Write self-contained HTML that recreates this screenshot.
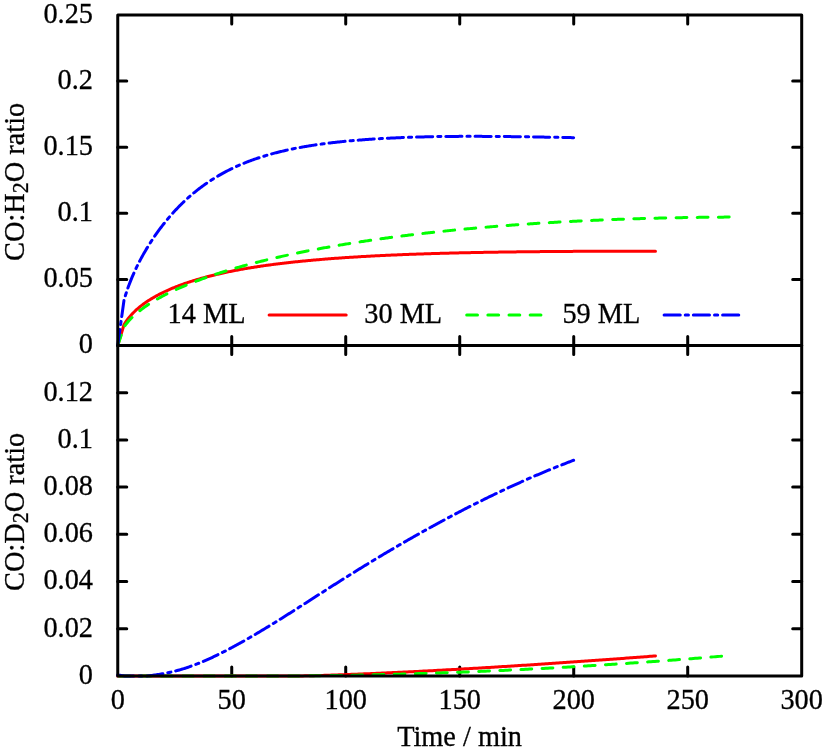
<!DOCTYPE html>
<html><head><meta charset="utf-8"><title>CO ratio</title>
<style>html,body{margin:0;padding:0;background:#fff;}svg{display:block;}.t{font-family:"Liberation Serif",serif;will-change:transform;}</style></head>
<body>
<svg width="831" height="751" viewBox="0 0 831 751">
<rect width="831" height="751" fill="#fff"/>
<path d="M231.74,15.0 v9.0 M231.74,336.5 v18.0 M231.74,675.9 v-9.0 M345.73,15.0 v9.0 M345.73,336.5 v18.0 M345.73,675.9 v-9.0 M459.73,15.0 v9.0 M459.73,336.5 v18.0 M459.73,675.9 v-9.0 M573.72,15.0 v9.0 M573.72,336.5 v18.0 M573.72,675.9 v-9.0 M687.71,15.0 v9.0 M687.71,336.5 v18.0 M687.71,675.9 v-9.0 M117.75,279.40 h9.0 M801.7,279.40 h-9.0 M117.75,213.30 h9.0 M801.7,213.30 h-9.0 M117.75,147.20 h9.0 M801.7,147.20 h-9.0 M117.75,81.10 h9.0 M801.7,81.10 h-9.0 M117.75,628.70 h9.0 M801.7,628.70 h-9.0 M117.75,581.50 h9.0 M801.7,581.50 h-9.0 M117.75,534.30 h9.0 M801.7,534.30 h-9.0 M117.75,487.10 h9.0 M801.7,487.10 h-9.0 M117.75,439.90 h9.0 M801.7,439.90 h-9.0 M117.75,392.70 h9.0 M801.7,392.70 h-9.0 " stroke="#000" stroke-width="3.0" stroke-linecap="round" fill="none"/>
<path d="M117.70,345.50 L123.99,324.71 L125.06,322.97 L126.12,321.36 L127.19,319.87 L128.25,318.47 L129.32,317.15 L130.38,315.90 L131.45,314.71 L132.51,313.57 L133.58,312.49 L134.64,311.45 L135.71,310.44 L136.77,309.48 L137.84,308.54 L138.90,307.64 L139.97,306.77 L141.03,305.92 L142.10,305.10 L143.16,304.30 L144.23,303.52 L145.29,302.77 L146.36,302.03 L147.42,301.31 L148.49,300.61 L149.55,299.93 L150.62,299.26 L151.68,298.61 L152.75,297.97 L153.81,297.35 L154.88,296.74 L155.94,296.14 L157.01,295.56 L158.07,294.98 L159.14,294.42 L160.21,293.87 L161.27,293.33 L162.34,292.80 L163.40,292.28 L164.47,291.77 L165.53,291.26 L166.60,290.77 L167.66,290.29 L168.73,289.81 L169.79,289.34 L170.86,288.88 L171.92,288.43 L172.99,287.99 L174.05,287.55 L175.12,287.12 L176.18,286.70 L177.25,286.28 L178.31,285.87 L179.38,285.47 L180.44,285.07 L181.51,284.68 L182.57,284.29 L183.64,283.91 L184.70,283.54 L185.77,283.17 L186.83,282.81 L187.90,282.45 L188.96,282.10 L190.03,281.75 L191.09,281.41 L192.16,281.07 L193.22,280.74 L194.29,280.41 L195.35,280.08 L196.42,279.76 L197.48,279.45 L198.55,279.14 L199.61,278.83 L200.68,278.53 L201.74,278.23 L202.81,277.93 L203.87,277.64 L204.94,277.35 L206.00,277.07 L207.07,276.79 L208.13,276.51 L209.20,276.24 L210.26,275.97 L211.33,275.70 L212.39,275.44 L213.46,275.18 L214.52,274.92 L215.59,274.67 L216.65,274.41 L217.72,274.17 L218.79,273.92 L219.85,273.68 L220.92,273.44 L221.98,273.20 L223.05,272.97 L224.11,272.74 L225.18,272.51 L226.24,272.29 L227.31,272.06 L228.37,271.84 L229.44,271.62 L230.50,271.41 L231.57,271.20 L232.63,270.99 L233.70,270.78 L234.76,270.57 L235.83,270.37 L236.89,270.17 L237.96,269.97 L239.02,269.77 L240.09,269.58 L241.15,269.38 L242.22,269.19 L243.28,269.01 L244.35,268.82 L245.41,268.64 L246.48,268.45 L247.54,268.27 L248.61,268.10 L249.67,267.92 L250.74,267.75 L251.80,267.57 L252.87,267.40 L253.93,267.23 L255.00,267.07 L256.06,266.90 L257.13,266.74 L258.19,266.58 L259.26,266.42 L260.32,266.26 L261.39,266.10 L262.45,265.95 L263.52,265.80 L264.58,265.64 L265.65,265.49 L266.71,265.34 L267.78,265.20 L268.84,265.05 L269.91,264.91 L270.97,264.77 L272.04,264.63 L273.10,264.49 L274.17,264.35 L275.24,264.21 L276.30,264.08 L277.37,263.94 L278.43,263.81 L279.50,263.68 L280.56,263.55 L281.63,263.42 L282.69,263.29 L283.76,263.17 L284.82,263.04 L285.89,262.92 L286.95,262.80 L288.02,262.67 L289.08,262.55 L290.15,262.44 L291.21,262.32 L292.28,262.20 L293.34,262.09 L294.41,261.97 L295.47,261.86 L296.54,261.75 L297.60,261.64 L298.67,261.53 L299.73,261.42 L300.80,261.31 L301.86,261.21 L302.93,261.10 L303.99,261.00 L305.06,260.89 L306.12,260.79 L307.19,260.69 L308.25,260.59 L309.32,260.49 L310.38,260.39 L311.45,260.29 L312.51,260.20 L313.58,260.10 L314.64,260.01 L315.71,259.91 L316.77,259.82 L317.84,259.73 L318.90,259.64 L319.97,259.55 L321.03,259.46 L322.10,259.37 L323.16,259.28 L324.23,259.19 L325.29,259.11 L326.36,259.02 L327.42,258.94 L328.49,258.85 L329.55,258.77 L330.62,258.69 L331.69,258.61 L332.75,258.53 L333.82,258.45 L334.88,258.37 L335.95,258.29 L337.01,258.21 L338.08,258.14 L339.14,258.06 L340.21,257.99 L341.27,257.91 L342.34,257.84 L343.40,257.77 L344.47,257.69 L345.53,257.62 L346.60,257.55 L347.66,257.48 L348.73,257.41 L349.79,257.34 L350.86,257.27 L351.92,257.21 L352.99,257.14 L354.05,257.07 L355.12,257.01 L356.18,256.94 L357.25,256.88 L358.31,256.81 L359.38,256.75 L360.44,256.69 L361.51,256.62 L362.57,256.56 L363.64,256.50 L364.70,256.44 L365.77,256.38 L366.83,256.32 L367.90,256.26 L368.96,256.21 L370.03,256.15 L371.09,256.09 L372.16,256.03 L373.22,255.98 L374.29,255.92 L375.35,255.87 L376.42,255.81 L377.48,255.76 L378.55,255.71 L379.61,255.65 L380.68,255.60 L381.74,255.55 L382.81,255.50 L383.87,255.45 L384.94,255.40 L386.00,255.35 L387.07,255.30 L388.13,255.25 L389.20,255.20 L390.27,255.15 L391.33,255.11 L392.40,255.06 L393.46,255.01 L394.53,254.97 L395.59,254.92 L396.66,254.88 L397.72,254.83 L398.79,254.79 L399.85,254.74 L400.92,254.70 L401.98,254.66 L403.05,254.61 L404.11,254.57 L405.18,254.53 L406.24,254.49 L407.31,254.45 L408.37,254.41 L409.44,254.37 L410.50,254.33 L411.57,254.29 L412.63,254.25 L413.70,254.21 L414.76,254.17 L415.83,254.13 L416.89,254.09 L417.96,254.06 L419.02,254.02 L420.09,253.98 L421.15,253.95 L422.22,253.91 L423.28,253.88 L424.35,253.84 L425.41,253.81 L426.48,253.77 L427.54,253.74 L428.61,253.71 L429.67,253.67 L430.74,253.64 L431.80,253.61 L432.87,253.57 L433.93,253.54 L435.00,253.51 L436.06,253.48 L437.13,253.45 L438.19,253.42 L439.26,253.39 L440.32,253.36 L441.39,253.33 L442.45,253.30 L443.52,253.27 L444.58,253.24 L445.65,253.21 L446.72,253.18 L447.78,253.16 L448.85,253.13 L449.91,253.10 L450.98,253.07 L452.04,253.05 L453.11,253.02 L454.17,253.00 L455.24,252.97 L456.30,252.94 L457.37,252.92 L458.43,252.89 L459.50,252.87 L460.56,252.84 L461.63,252.82 L462.69,252.80 L463.76,252.77 L464.82,252.75 L465.89,252.72 L466.95,252.70 L468.02,252.68 L469.08,252.66 L470.15,252.63 L471.21,252.61 L472.28,252.59 L473.34,252.57 L474.41,252.55 L475.47,252.53 L476.54,252.51 L477.60,252.48 L478.67,252.46 L479.73,252.44 L480.80,252.42 L481.86,252.40 L482.93,252.38 L483.99,252.37 L485.06,252.35 L486.12,252.33 L487.19,252.31 L488.25,252.29 L489.32,252.27 L490.38,252.25 L491.45,252.24 L492.51,252.22 L493.58,252.20 L494.64,252.18 L495.71,252.17 L496.77,252.15 L497.84,252.13 L498.90,252.12 L499.97,252.10 L501.03,252.09 L502.10,252.07 L503.17,252.05 L504.23,252.04 L505.30,252.02 L506.36,252.01 L507.43,251.99 L508.49,251.98 L509.56,251.96 L510.62,251.95 L511.69,251.94 L512.75,251.92 L513.82,251.91 L514.88,251.89 L515.95,251.88 L517.01,251.87 L518.08,251.86 L519.14,251.84 L520.21,251.83 L521.27,251.82 L522.34,251.80 L523.40,251.79 L524.47,251.78 L525.53,251.77 L526.60,251.76 L527.66,251.74 L528.73,251.73 L529.79,251.72 L530.86,251.71 L531.92,251.70 L532.99,251.69 L534.05,251.68 L535.12,251.67 L536.18,251.66 L537.25,251.65 L538.31,251.64 L539.38,251.63 L540.44,251.62 L541.51,251.61 L542.57,251.60 L543.64,251.59 L544.70,251.58 L545.77,251.57 L546.83,251.56 L547.90,251.55 L548.96,251.54 L550.03,251.53 L551.09,251.52 L552.16,251.52 L553.22,251.51 L554.29,251.50 L555.35,251.49 L556.42,251.48 L557.48,251.48 L558.55,251.47 L559.61,251.46 L560.68,251.45 L561.75,251.45 L562.81,251.44 L563.88,251.43 L564.94,251.42 L566.01,251.42 L567.07,251.41 L568.14,251.40 L569.20,251.40 L570.27,251.39 L571.33,251.38 L572.40,251.38 L573.46,251.37 L574.53,251.37 L575.59,251.36 L576.66,251.35 L577.72,251.35 L578.79,251.34 L579.85,251.34 L580.92,251.33 L581.98,251.33 L583.05,251.32 L584.11,251.32 L585.18,251.31 L586.24,251.31 L587.31,251.30 L588.37,251.30 L589.44,251.29 L590.50,251.29 L591.57,251.28 L592.63,251.28 L593.70,251.27 L594.76,251.27 L595.83,251.27 L596.89,251.26 L597.96,251.26 L599.02,251.25 L600.09,251.25 L601.15,251.25 L602.22,251.24 L603.28,251.24 L604.35,251.24 L605.41,251.23 L606.48,251.23 L607.54,251.23 L608.61,251.22 L609.67,251.22 L610.74,251.22 L611.80,251.21 L612.87,251.21 L613.93,251.21 L615.00,251.20 L616.06,251.20 L617.13,251.20 L618.20,251.20 L619.26,251.19 L620.33,251.19 L621.39,251.19 L622.46,251.19 L623.52,251.18 L624.59,251.18 L625.65,251.18 L626.72,251.18 L627.78,251.18 L628.85,251.17 L629.91,251.17 L630.98,251.17 L632.04,251.17 L633.11,251.17 L634.17,251.17 L635.24,251.16 L636.30,251.16 L637.37,251.16 L638.43,251.16 L639.50,251.16 L640.56,251.16 L641.63,251.16 L642.69,251.15 L643.76,251.15 L644.82,251.15 L645.89,251.15 L646.95,251.15 L648.02,251.15 L649.08,251.15 L650.15,251.15 L651.21,251.15 L652.28,251.15 L653.34,251.15 L654.41,251.14 L655.47,251.14" stroke="#f00" stroke-width="3.0" stroke-linecap="round" stroke-linejoin="round" fill="none"/>
<path d="M117.70,345.50 L123.99,327.06 L125.20,325.32 L126.42,323.71 L127.63,322.22 L128.84,320.82 L130.06,319.49 L131.27,318.23 L132.48,317.03 L133.70,315.88 L134.91,314.77 L136.12,313.70 L137.34,312.67 L138.55,311.67 L139.76,310.71 L140.98,309.77 L142.19,308.85 L143.40,307.96 L144.61,307.09 L145.83,306.25 L147.04,305.42 L148.25,304.61 L149.47,303.82 L150.68,303.05 L151.89,302.29 L153.11,301.54 L154.32,300.81 L155.53,300.09 L156.75,299.39 L157.96,298.70 L159.17,298.02 L160.39,297.35 L161.60,296.69 L162.81,296.04 L164.02,295.40 L165.24,294.77 L166.45,294.15 L167.66,293.54 L168.88,292.94 L170.09,292.34 L171.30,291.76 L172.52,291.18 L173.73,290.61 L174.94,290.04 L176.16,289.49 L177.37,288.94 L178.58,288.39 L179.80,287.86 L181.01,287.33 L182.22,286.80 L183.43,286.28 L184.65,285.77 L185.86,285.26 L187.07,284.76 L188.29,284.27 L189.50,283.77 L190.71,283.29 L191.93,282.81 L193.14,282.33 L194.35,281.86 L195.57,281.40 L196.78,280.93 L197.99,280.48 L199.20,280.02 L200.42,279.57 L201.63,279.13 L202.84,278.69 L204.06,278.25 L205.27,277.82 L206.48,277.39 L207.70,276.97 L208.91,276.55 L210.12,276.13 L211.34,275.72 L212.55,275.31 L213.76,274.90 L214.98,274.50 L216.19,274.10 L217.40,273.70 L218.61,273.31 L219.83,272.92 L221.04,272.54 L222.25,272.15 L223.47,271.77 L224.68,271.39 L225.89,271.02 L227.11,270.65 L228.32,270.28 L229.53,269.91 L230.75,269.55 L231.96,269.19 L233.17,268.83 L234.39,268.48 L235.60,268.13 L236.81,267.78 L238.02,267.43 L239.24,267.09 L240.45,266.74 L241.66,266.40 L242.88,266.07 L244.09,265.73 L245.30,265.40 L246.52,265.07 L247.73,264.74 L248.94,264.42 L250.16,264.10 L251.37,263.78 L252.58,263.46 L253.79,263.14 L255.01,262.83 L256.22,262.51 L257.43,262.20 L258.65,261.90 L259.86,261.59 L261.07,261.29 L262.29,260.99 L263.50,260.69 L264.71,260.39 L265.93,260.09 L267.14,259.80 L268.35,259.51 L269.57,259.22 L270.78,258.93 L271.99,258.64 L273.20,258.36 L274.42,258.07 L275.63,257.79 L276.84,257.51 L278.06,257.24 L279.27,256.96 L280.48,256.69 L281.70,256.41 L282.91,256.14 L284.12,255.88 L285.34,255.61 L286.55,255.34 L287.76,255.08 L288.98,254.82 L290.19,254.56 L291.40,254.30 L292.61,254.04 L293.83,253.78 L295.04,253.53 L296.25,253.28 L297.47,253.02 L298.68,252.77 L299.89,252.53 L301.11,252.28 L302.32,252.03 L303.53,251.79 L304.75,251.55 L305.96,251.31 L307.17,251.07 L308.38,250.83 L309.60,250.59 L310.81,250.36 L312.02,250.12 L313.24,249.89 L314.45,249.66 L315.66,249.43 L316.88,249.20 L318.09,248.97 L319.30,248.74 L320.52,248.52 L321.73,248.30 L322.94,248.07 L324.16,247.85 L325.37,247.63 L326.58,247.41 L327.79,247.20 L329.01,246.98 L330.22,246.77 L331.43,246.55 L332.65,246.34 L333.86,246.13 L335.07,245.92 L336.29,245.71 L337.50,245.50 L338.71,245.30 L339.93,245.09 L341.14,244.89 L342.35,244.69 L343.57,244.48 L344.78,244.28 L345.99,244.08 L347.20,243.89 L348.42,243.69 L349.63,243.49 L350.84,243.30 L352.06,243.10 L353.27,242.91 L354.48,242.72 L355.70,242.53 L356.91,242.34 L358.12,242.15 L359.34,241.96 L360.55,241.78 L361.76,241.59 L362.97,241.41 L364.19,241.22 L365.40,241.04 L366.61,240.86 L367.83,240.68 L369.04,240.50 L370.25,240.32 L371.47,240.14 L372.68,239.97 L373.89,239.79 L375.11,239.62 L376.32,239.44 L377.53,239.27 L378.75,239.10 L379.96,238.93 L381.17,238.76 L382.38,238.59 L383.60,238.42 L384.81,238.25 L386.02,238.09 L387.24,237.92 L388.45,237.76 L389.66,237.60 L390.88,237.43 L392.09,237.27 L393.30,237.11 L394.52,236.95 L395.73,236.79 L396.94,236.63 L398.16,236.48 L399.37,236.32 L400.58,236.17 L401.79,236.01 L403.01,235.86 L404.22,235.71 L405.43,235.55 L406.65,235.40 L407.86,235.25 L409.07,235.10 L410.29,234.96 L411.50,234.81 L412.71,234.66 L413.93,234.51 L415.14,234.37 L416.35,234.23 L417.56,234.08 L418.78,233.94 L419.99,233.80 L421.20,233.66 L422.42,233.52 L423.63,233.38 L424.84,233.24 L426.06,233.10 L427.27,232.96 L428.48,232.83 L429.70,232.69 L430.91,232.55 L432.12,232.42 L433.34,232.29 L434.55,232.15 L435.76,232.02 L436.97,231.89 L438.19,231.76 L439.40,231.63 L440.61,231.50 L441.83,231.38 L443.04,231.25 L444.25,231.12 L445.47,231.00 L446.68,230.87 L447.89,230.75 L449.11,230.62 L450.32,230.50 L451.53,230.38 L452.75,230.25 L453.96,230.13 L455.17,230.01 L456.38,229.89 L457.60,229.78 L458.81,229.66 L460.02,229.54 L461.24,229.42 L462.45,229.31 L463.66,229.19 L464.88,229.08 L466.09,228.96 L467.30,228.85 L468.52,228.74 L469.73,228.63 L470.94,228.51 L472.15,228.40 L473.37,228.29 L474.58,228.19 L475.79,228.08 L477.01,227.97 L478.22,227.86 L479.43,227.75 L480.65,227.65 L481.86,227.54 L483.07,227.44 L484.29,227.33 L485.50,227.23 L486.71,227.13 L487.93,227.03 L489.14,226.93 L490.35,226.82 L491.56,226.72 L492.78,226.62 L493.99,226.53 L495.20,226.43 L496.42,226.33 L497.63,226.23 L498.84,226.14 L500.06,226.04 L501.27,225.95 L502.48,225.85 L503.70,225.76 L504.91,225.66 L506.12,225.57 L507.34,225.48 L508.55,225.39 L509.76,225.30 L510.97,225.21 L512.19,225.12 L513.40,225.03 L514.61,224.94 L515.83,224.85 L517.04,224.76 L518.25,224.67 L519.47,224.59 L520.68,224.50 L521.89,224.42 L523.11,224.33 L524.32,224.25 L525.53,224.17 L526.74,224.08 L527.96,224.00 L529.17,223.92 L530.38,223.84 L531.60,223.76 L532.81,223.68 L534.02,223.60 L535.24,223.52 L536.45,223.44 L537.66,223.36 L538.88,223.29 L540.09,223.21 L541.30,223.13 L542.52,223.06 L543.73,222.98 L544.94,222.91 L546.15,222.83 L547.37,222.76 L548.58,222.69 L549.79,222.61 L551.01,222.54 L552.22,222.47 L553.43,222.40 L554.65,222.33 L555.86,222.26 L557.07,222.19 L558.29,222.12 L559.50,222.05 L560.71,221.99 L561.93,221.92 L563.14,221.85 L564.35,221.79 L565.56,221.72 L566.78,221.66 L567.99,221.59 L569.20,221.53 L570.42,221.46 L571.63,221.40 L572.84,221.34 L574.06,221.28 L575.27,221.22 L576.48,221.15 L577.70,221.09 L578.91,221.03 L580.12,220.98 L581.33,220.92 L582.55,220.86 L583.76,220.80 L584.97,220.74 L586.19,220.69 L587.40,220.63 L588.61,220.57 L589.83,220.52 L591.04,220.46 L592.25,220.41 L593.47,220.35 L594.68,220.30 L595.89,220.25 L597.11,220.19 L598.32,220.14 L599.53,220.09 L600.74,220.04 L601.96,219.99 L603.17,219.94 L604.38,219.89 L605.60,219.84 L606.81,219.79 L608.02,219.74 L609.24,219.69 L610.45,219.65 L611.66,219.60 L612.88,219.55 L614.09,219.51 L615.30,219.46 L616.52,219.42 L617.73,219.37 L618.94,219.33 L620.15,219.28 L621.37,219.24 L622.58,219.20 L623.79,219.16 L625.01,219.11 L626.22,219.07 L627.43,219.03 L628.65,218.99 L629.86,218.95 L631.07,218.91 L632.29,218.87 L633.50,218.83 L634.71,218.80 L635.92,218.76 L637.14,218.72 L638.35,218.68 L639.56,218.65 L640.78,218.61 L641.99,218.57 L643.20,218.54 L644.42,218.50 L645.63,218.47 L646.84,218.44 L648.06,218.40 L649.27,218.37 L650.48,218.34 L651.70,218.30 L652.91,218.27 L654.12,218.24 L655.33,218.21 L656.55,218.18 L657.76,218.15 L658.97,218.12 L660.19,218.09 L661.40,218.06 L662.61,218.03 L663.83,218.01 L665.04,217.98 L666.25,217.95 L667.47,217.92 L668.68,217.90 L669.89,217.87 L671.11,217.85 L672.32,217.82 L673.53,217.80 L674.74,217.77 L675.96,217.75 L677.17,217.73 L678.38,217.70 L679.60,217.68 L680.81,217.66 L682.02,217.64 L683.24,217.61 L684.45,217.59 L685.66,217.57 L686.88,217.55 L688.09,217.53 L689.30,217.51 L690.51,217.50 L691.73,217.48 L692.94,217.46 L694.15,217.44 L695.37,217.42 L696.58,217.41 L697.79,217.39 L699.01,217.37 L700.22,217.36 L701.43,217.34 L702.65,217.33 L703.86,217.31 L705.07,217.30 L706.29,217.28 L707.50,217.27 L708.71,217.26 L709.92,217.25 L711.14,217.23 L712.35,217.22 L713.56,217.21 L714.78,217.20 L715.99,217.19 L717.20,217.18 L718.42,217.17 L719.63,217.16 L720.84,217.15 L722.06,217.14 L723.27,217.13 L724.48,217.12 L725.70,217.11 L726.91,217.11 L728.12,217.10 L729.33,217.09" stroke="#0f0" stroke-width="3.0" stroke-linecap="round" stroke-linejoin="round" fill="none" stroke-dasharray="10.8 10.35"/>
<path d="M117.70,345.50 L123.99,300.34 L124.89,297.21 L125.79,294.28 L126.70,291.50 L127.60,288.86 L128.50,286.34 L129.40,283.92 L130.30,281.59 L131.20,279.35 L132.10,277.18 L133.00,275.07 L133.90,273.03 L134.80,271.04 L135.71,269.10 L136.61,267.22 L137.51,265.37 L138.41,263.57 L139.31,261.81 L140.21,260.08 L141.11,258.39 L142.01,256.73 L142.91,255.11 L143.82,253.51 L144.72,251.94 L145.62,250.40 L146.52,248.88 L147.42,247.39 L148.32,245.92 L149.22,244.47 L150.12,243.05 L151.02,241.65 L151.93,240.27 L152.83,238.91 L153.73,237.57 L154.63,236.25 L155.53,234.95 L156.43,233.66 L157.33,232.40 L158.23,231.15 L159.13,229.92 L160.04,228.70 L160.94,227.50 L161.84,226.32 L162.74,225.15 L163.64,224.00 L164.54,222.87 L165.44,221.74 L166.34,220.64 L167.24,219.55 L168.15,218.47 L169.05,217.40 L169.95,216.35 L170.85,215.32 L171.75,214.29 L172.65,213.28 L173.55,212.28 L174.45,211.30 L175.35,210.33 L176.25,209.37 L177.16,208.42 L178.06,207.49 L178.96,206.56 L179.86,205.65 L180.76,204.75 L181.66,203.86 L182.56,202.98 L183.46,202.12 L184.36,201.26 L185.27,200.42 L186.17,199.58 L187.07,198.76 L187.97,197.95 L188.87,197.15 L189.77,196.35 L190.67,195.57 L191.57,194.80 L192.47,194.04 L193.38,193.28 L194.28,192.54 L195.18,191.81 L196.08,191.08 L196.98,190.37 L197.88,189.66 L198.78,188.96 L199.68,188.27 L200.58,187.59 L201.49,186.92 L202.39,186.26 L203.29,185.60 L204.19,184.96 L205.09,184.32 L205.99,183.69 L206.89,183.06 L207.79,182.45 L208.69,181.84 L209.59,181.24 L210.50,180.65 L211.40,180.07 L212.30,179.49 L213.20,178.92 L214.10,178.36 L215.00,177.81 L215.90,177.26 L216.80,176.72 L217.70,176.18 L218.61,175.65 L219.51,175.13 L220.41,174.62 L221.31,174.11 L222.21,173.61 L223.11,173.11 L224.01,172.63 L224.91,172.14 L225.81,171.67 L226.72,171.20 L227.62,170.73 L228.52,170.27 L229.42,169.82 L230.32,169.37 L231.22,168.93 L232.12,168.49 L233.02,168.06 L233.92,167.64 L234.83,167.22 L235.73,166.80 L236.63,166.39 L237.53,165.99 L238.43,165.59 L239.33,165.20 L240.23,164.81 L241.13,164.42 L242.03,164.04 L242.94,163.67 L243.84,163.30 L244.74,162.94 L245.64,162.58 L246.54,162.22 L247.44,161.87 L248.34,161.52 L249.24,161.18 L250.14,160.84 L251.04,160.51 L251.95,160.18 L252.85,159.85 L253.75,159.53 L254.65,159.21 L255.55,158.90 L256.45,158.59 L257.35,158.28 L258.25,157.98 L259.15,157.68 L260.06,157.39 L260.96,157.10 L261.86,156.81 L262.76,156.53 L263.66,156.25 L264.56,155.97 L265.46,155.70 L266.36,155.43 L267.26,155.17 L268.17,154.90 L269.07,154.64 L269.97,154.39 L270.87,154.14 L271.77,153.89 L272.67,153.64 L273.57,153.40 L274.47,153.16 L275.37,152.92 L276.28,152.69 L277.18,152.45 L278.08,152.23 L278.98,152.00 L279.88,151.78 L280.78,151.56 L281.68,151.34 L282.58,151.13 L283.48,150.92 L284.39,150.71 L285.29,150.50 L286.19,150.30 L287.09,150.10 L287.99,149.90 L288.89,149.70 L289.79,149.51 L290.69,149.32 L291.59,149.13 L292.49,148.94 L293.40,148.76 L294.30,148.58 L295.20,148.40 L296.10,148.22 L297.00,148.05 L297.90,147.87 L298.80,147.70 L299.70,147.54 L300.60,147.37 L301.51,147.21 L302.41,147.04 L303.31,146.88 L304.21,146.73 L305.11,146.57 L306.01,146.42 L306.91,146.26 L307.81,146.11 L308.71,145.97 L309.62,145.82 L310.52,145.68 L311.42,145.53 L312.32,145.39 L313.22,145.25 L314.12,145.12 L315.02,144.98 L315.92,144.85 L316.82,144.72 L317.73,144.59 L318.63,144.46 L319.53,144.33 L320.43,144.20 L321.33,144.08 L322.23,143.96 L323.13,143.84 L324.03,143.72 L324.93,143.60 L325.83,143.48 L326.74,143.37 L327.64,143.26 L328.54,143.14 L329.44,143.03 L330.34,142.92 L331.24,142.82 L332.14,142.71 L333.04,142.61 L333.94,142.50 L334.85,142.40 L335.75,142.30 L336.65,142.20 L337.55,142.10 L338.45,142.00 L339.35,141.91 L340.25,141.81 L341.15,141.72 L342.05,141.63 L342.96,141.54 L343.86,141.45 L344.76,141.36 L345.66,141.27 L346.56,141.18 L347.46,141.10 L348.36,141.02 L349.26,140.93 L350.16,140.85 L351.07,140.77 L351.97,140.69 L352.87,140.61 L353.77,140.53 L354.67,140.46 L355.57,140.38 L356.47,140.30 L357.37,140.23 L358.27,140.16 L359.18,140.09 L360.08,140.01 L360.98,139.94 L361.88,139.88 L362.78,139.81 L363.68,139.74 L364.58,139.67 L365.48,139.61 L366.38,139.54 L367.28,139.48 L368.19,139.42 L369.09,139.35 L369.99,139.29 L370.89,139.23 L371.79,139.17 L372.69,139.11 L373.59,139.06 L374.49,139.00 L375.39,138.94 L376.30,138.89 L377.20,138.83 L378.10,138.78 L379.00,138.72 L379.90,138.67 L380.80,138.62 L381.70,138.57 L382.60,138.52 L383.50,138.47 L384.41,138.42 L385.31,138.37 L386.21,138.32 L387.11,138.28 L388.01,138.23 L388.91,138.18 L389.81,138.14 L390.71,138.10 L391.61,138.05 L392.52,138.01 L393.42,137.97 L394.32,137.92 L395.22,137.88 L396.12,137.84 L397.02,137.80 L397.92,137.76 L398.82,137.73 L399.72,137.69 L400.62,137.65 L401.53,137.61 L402.43,137.58 L403.33,137.54 L404.23,137.51 L405.13,137.47 L406.03,137.44 L406.93,137.41 L407.83,137.37 L408.73,137.34 L409.64,137.31 L410.54,137.28 L411.44,137.25 L412.34,137.22 L413.24,137.19 L414.14,137.16 L415.04,137.13 L415.94,137.11 L416.84,137.08 L417.75,137.05 L418.65,137.03 L419.55,137.00 L420.45,136.98 L421.35,136.95 L422.25,136.93 L423.15,136.91 L424.05,136.88 L424.95,136.86 L425.86,136.84 L426.76,136.82 L427.66,136.80 L428.56,136.78 L429.46,136.76 L430.36,136.74 L431.26,136.72 L432.16,136.70 L433.06,136.68 L433.97,136.67 L434.87,136.65 L435.77,136.63 L436.67,136.62 L437.57,136.60 L438.47,136.59 L439.37,136.57 L440.27,136.56 L441.17,136.55 L442.07,136.53 L442.98,136.52 L443.88,136.51 L444.78,136.50 L445.68,136.49 L446.58,136.48 L447.48,136.47 L448.38,136.46 L449.28,136.45 L450.18,136.44 L451.09,136.43 L451.99,136.42 L452.89,136.41 L453.79,136.41 L454.69,136.40 L455.59,136.39 L456.49,136.39 L457.39,136.38 L458.29,136.38 L459.20,136.37 L460.10,136.37 L461.00,136.36 L461.90,136.36 L462.80,136.36 L463.70,136.36 L464.60,136.35 L465.50,136.35 L466.40,136.35 L467.31,136.35 L468.21,136.35 L469.11,136.35 L470.01,136.35 L470.91,136.35 L471.81,136.35 L472.71,136.35 L473.61,136.35 L474.51,136.35 L475.42,136.35 L476.32,136.35 L477.22,136.36 L478.12,136.36 L479.02,136.36 L479.92,136.36 L480.82,136.37 L481.72,136.37 L482.62,136.38 L483.52,136.38 L484.43,136.38 L485.33,136.39 L486.23,136.39 L487.13,136.40 L488.03,136.41 L488.93,136.41 L489.83,136.42 L490.73,136.42 L491.63,136.43 L492.54,136.44 L493.44,136.44 L494.34,136.45 L495.24,136.46 L496.14,136.47 L497.04,136.48 L497.94,136.48 L498.84,136.49 L499.74,136.50 L500.65,136.51 L501.55,136.52 L502.45,136.53 L503.35,136.54 L504.25,136.55 L505.15,136.56 L506.05,136.57 L506.95,136.58 L507.85,136.59 L508.76,136.60 L509.66,136.61 L510.56,136.62 L511.46,136.63 L512.36,136.64 L513.26,136.65 L514.16,136.67 L515.06,136.68 L515.96,136.69 L516.86,136.70 L517.77,136.71 L518.67,136.72 L519.57,136.74 L520.47,136.75 L521.37,136.76 L522.27,136.78 L523.17,136.79 L524.07,136.80 L524.97,136.81 L525.88,136.83 L526.78,136.84 L527.68,136.86 L528.58,136.87 L529.48,136.88 L530.38,136.90 L531.28,136.91 L532.18,136.92 L533.08,136.94 L533.99,136.95 L534.89,136.97 L535.79,136.98 L536.69,137.00 L537.59,137.01 L538.49,137.03 L539.39,137.04 L540.29,137.06 L541.19,137.07 L542.10,137.09 L543.00,137.10 L543.90,137.12 L544.80,137.13 L545.70,137.15 L546.60,137.16 L547.50,137.18 L548.40,137.20 L549.30,137.21 L550.21,137.23 L551.11,137.24 L552.01,137.26 L552.91,137.28 L553.81,137.29 L554.71,137.31 L555.61,137.33 L556.51,137.34 L557.41,137.36 L558.31,137.38 L559.22,137.39 L560.12,137.41 L561.02,137.43 L561.92,137.44 L562.82,137.46 L563.72,137.48 L564.62,137.49 L565.52,137.51 L566.42,137.53 L567.33,137.55 L568.23,137.56 L569.13,137.58 L570.03,137.60 L570.93,137.62 L571.83,137.63 L572.73,137.65 L573.63,137.67" stroke="#00f" stroke-width="3.0" stroke-linecap="round" stroke-linejoin="round" fill="none" stroke-dasharray="16.15 5 3.2 4.9"/>
<path d="M117.70,675.90 L119.50,675.90 L121.30,675.90 L123.10,675.90 L124.89,675.90 L126.69,675.90 L128.49,675.90 L130.29,675.90 L132.09,675.90 L133.89,675.90 L135.69,675.90 L137.48,675.90 L139.28,675.90 L141.08,675.90 L142.88,675.90 L144.68,675.90 L146.48,675.90 L148.28,675.90 L150.07,675.90 L151.87,675.90 L153.67,675.90 L155.47,675.90 L157.27,675.90 L159.07,675.90 L160.87,675.90 L162.66,675.90 L164.46,675.90 L166.26,675.90 L168.06,675.90 L169.86,675.90 L171.66,675.90 L173.46,675.90 L175.25,675.90 L177.05,675.90 L178.85,675.90 L180.65,675.90 L182.45,675.90 L184.25,675.90 L186.05,675.90 L187.84,675.90 L189.64,675.90 L191.44,675.90 L193.24,675.90 L195.04,675.90 L196.84,675.90 L198.64,675.90 L200.43,675.90 L202.23,675.90 L204.03,675.90 L205.83,675.90 L207.63,675.90 L209.43,675.90 L211.23,675.90 L213.02,675.90 L214.82,675.90 L216.62,675.90 L218.42,675.90 L220.22,675.90 L222.02,675.90 L223.82,675.90 L225.61,675.90 L227.41,675.90 L229.21,675.90 L231.01,675.90 L232.81,675.90 L234.61,675.90 L236.41,675.90 L238.20,675.90 L240.00,675.90 L241.80,675.90 L243.60,675.90 L245.40,675.90 L247.20,675.90 L249.00,675.90 L250.79,675.90 L252.59,675.90 L254.39,675.90 L256.19,675.90 L257.99,675.90 L259.79,675.90 L261.59,675.90 L263.38,675.90 L265.18,675.90 L266.98,675.90 L268.78,675.90 L270.58,675.90 L272.38,675.90 L274.18,675.90 L275.97,675.90 L277.77,675.90 L279.57,675.90 L281.37,675.90 L283.17,675.90 L284.97,675.90 L286.77,675.90 L288.56,675.90 L290.36,675.90 L292.16,675.90 L293.96,675.90 L295.76,675.90 L297.56,675.90 L299.36,675.90 L301.15,675.90 L302.95,675.90 L304.75,675.87 L306.55,675.84 L308.35,675.80 L310.15,675.76 L311.95,675.72 L313.74,675.67 L315.54,675.62 L317.34,675.56 L319.14,675.51 L320.94,675.45 L322.74,675.39 L324.54,675.34 L326.33,675.28 L328.13,675.21 L329.93,675.15 L331.73,675.09 L333.53,675.03 L335.33,674.96 L337.13,674.90 L338.92,674.83 L340.72,674.77 L342.52,674.70 L344.32,674.63 L346.12,674.56 L347.92,674.50 L349.72,674.43 L351.51,674.36 L353.31,674.29 L355.11,674.22 L356.91,674.15 L358.71,674.07 L360.51,674.00 L362.31,673.93 L364.10,673.86 L365.90,673.78 L367.70,673.71 L369.50,673.63 L371.30,673.56 L373.10,673.48 L374.90,673.40 L376.69,673.33 L378.49,673.25 L380.29,673.17 L382.09,673.09 L383.89,673.01 L385.69,672.93 L387.49,672.85 L389.28,672.77 L391.08,672.69 L392.88,672.60 L394.68,672.52 L396.48,672.44 L398.28,672.35 L400.08,672.27 L401.87,672.18 L403.67,672.10 L405.47,672.01 L407.27,671.92 L409.07,671.83 L410.87,671.75 L412.67,671.66 L414.46,671.57 L416.26,671.48 L418.06,671.39 L419.86,671.30 L421.66,671.21 L423.46,671.11 L425.26,671.02 L427.05,670.93 L428.85,670.84 L430.65,670.74 L432.45,670.65 L434.25,670.55 L436.05,670.46 L437.85,670.36 L439.64,670.26 L441.44,670.17 L443.24,670.07 L445.04,669.97 L446.84,669.87 L448.64,669.78 L450.44,669.68 L452.23,669.58 L454.03,669.48 L455.83,669.38 L457.63,669.28 L459.43,669.17 L461.23,669.07 L463.03,668.97 L464.82,668.87 L466.62,668.76 L468.42,668.66 L470.22,668.56 L472.02,668.45 L473.82,668.35 L475.62,668.24 L477.41,668.14 L479.21,668.03 L481.01,667.92 L482.81,667.82 L484.61,667.71 L486.41,667.60 L488.21,667.49 L490.00,667.39 L491.80,667.28 L493.60,667.17 L495.40,667.06 L497.20,666.95 L499.00,666.84 L500.80,666.73 L502.59,666.61 L504.39,666.50 L506.19,666.39 L507.99,666.28 L509.79,666.17 L511.59,666.05 L513.39,665.94 L515.18,665.83 L516.98,665.71 L518.78,665.60 L520.58,665.48 L522.38,665.37 L524.18,665.25 L525.98,665.13 L527.77,665.02 L529.57,664.90 L531.37,664.78 L533.17,664.67 L534.97,664.55 L536.77,664.43 L538.57,664.31 L540.36,664.19 L542.16,664.08 L543.96,663.96 L545.76,663.84 L547.56,663.72 L549.36,663.60 L551.16,663.47 L552.95,663.35 L554.75,663.23 L556.55,663.11 L558.35,662.99 L560.15,662.87 L561.95,662.74 L563.75,662.62 L565.54,662.50 L567.34,662.37 L569.14,662.25 L570.94,662.12 L572.74,662.00 L574.54,661.87 L576.34,661.75 L578.13,661.62 L579.93,661.50 L581.73,661.37 L583.53,661.24 L585.33,661.12 L587.13,660.99 L588.93,660.86 L590.72,660.73 L592.52,660.61 L594.32,660.48 L596.12,660.35 L597.92,660.22 L599.72,660.09 L601.52,659.96 L603.31,659.83 L605.11,659.70 L606.91,659.57 L608.71,659.44 L610.51,659.31 L612.31,659.18 L614.11,659.05 L615.90,658.91 L617.70,658.78 L619.50,658.65 L621.30,658.52 L623.10,658.38 L624.90,658.25 L626.70,658.12 L628.49,657.98 L630.29,657.85 L632.09,657.71 L633.89,657.58 L635.69,657.44 L637.49,657.31 L639.29,657.17 L641.08,657.04 L642.88,656.90 L644.68,656.76 L646.48,656.63 L648.28,656.49 L650.08,656.35 L651.88,656.21 L653.67,656.08 L655.47,655.94" stroke="#f00" stroke-width="3.0" stroke-linecap="round" stroke-linejoin="round" fill="none"/>
<path d="M117.70,675.90 L119.72,675.90 L121.74,675.90 L123.76,675.90 L125.78,675.90 L127.80,675.90 L129.82,675.90 L131.84,675.90 L133.86,675.90 L135.88,675.90 L137.90,675.90 L139.92,675.90 L141.94,675.90 L143.96,675.90 L145.98,675.90 L148.00,675.90 L150.01,675.90 L152.03,675.90 L154.05,675.90 L156.07,675.90 L158.09,675.90 L160.11,675.90 L162.13,675.90 L164.15,675.90 L166.17,675.90 L168.19,675.90 L170.21,675.90 L172.23,675.90 L174.25,675.90 L176.27,675.90 L178.29,675.90 L180.31,675.90 L182.33,675.90 L184.35,675.90 L186.37,675.90 L188.39,675.90 L190.41,675.90 L192.43,675.90 L194.45,675.90 L196.47,675.90 L198.49,675.90 L200.51,675.90 L202.53,675.90 L204.55,675.90 L206.57,675.90 L208.59,675.90 L210.61,675.90 L212.62,675.90 L214.64,675.90 L216.66,675.90 L218.68,675.90 L220.70,675.90 L222.72,675.90 L224.74,675.90 L226.76,675.90 L228.78,675.90 L230.80,675.90 L232.82,675.90 L234.84,675.90 L236.86,675.90 L238.88,675.90 L240.90,675.90 L242.92,675.90 L244.94,675.90 L246.96,675.90 L248.98,675.90 L251.00,675.90 L253.02,675.90 L255.04,675.90 L257.06,675.90 L259.08,675.90 L261.10,675.90 L263.12,675.90 L265.14,675.90 L267.16,675.90 L269.18,675.90 L271.20,675.90 L273.22,675.90 L275.23,675.90 L277.25,675.90 L279.27,675.90 L281.29,675.90 L283.31,675.90 L285.33,675.90 L287.35,675.90 L289.37,675.90 L291.39,675.90 L293.41,675.90 L295.43,675.90 L297.45,675.90 L299.47,675.89 L301.49,675.88 L303.51,675.87 L305.53,675.86 L307.55,675.85 L309.57,675.84 L311.59,675.82 L313.61,675.80 L315.63,675.79 L317.65,675.77 L319.67,675.75 L321.69,675.72 L323.71,675.70 L325.73,675.67 L327.75,675.65 L329.77,675.62 L331.79,675.59 L333.81,675.56 L335.83,675.53 L337.84,675.50 L339.86,675.47 L341.88,675.44 L343.90,675.40 L345.92,675.37 L347.94,675.33 L349.96,675.29 L351.98,675.26 L354.00,675.22 L356.02,675.18 L358.04,675.14 L360.06,675.10 L362.08,675.05 L364.10,675.01 L366.12,674.97 L368.14,674.93 L370.16,674.88 L372.18,674.84 L374.20,674.79 L376.22,674.74 L378.24,674.70 L380.26,674.65 L382.28,674.60 L384.30,674.55 L386.32,674.50 L388.34,674.45 L390.36,674.40 L392.38,674.35 L394.40,674.29 L396.42,674.24 L398.44,674.19 L400.45,674.13 L402.47,674.08 L404.49,674.02 L406.51,673.96 L408.53,673.90 L410.55,673.85 L412.57,673.79 L414.59,673.73 L416.61,673.67 L418.63,673.61 L420.65,673.55 L422.67,673.48 L424.69,673.42 L426.71,673.36 L428.73,673.29 L430.75,673.23 L432.77,673.16 L434.79,673.09 L436.81,673.03 L438.83,672.96 L440.85,672.89 L442.87,672.82 L444.89,672.75 L446.91,672.68 L448.93,672.61 L450.95,672.53 L452.97,672.46 L454.99,672.39 L457.01,672.31 L459.03,672.24 L461.05,672.16 L463.06,672.08 L465.08,672.00 L467.10,671.93 L469.12,671.85 L471.14,671.77 L473.16,671.69 L475.18,671.60 L477.20,671.52 L479.22,671.44 L481.24,671.35 L483.26,671.27 L485.28,671.18 L487.30,671.10 L489.32,671.01 L491.34,670.92 L493.36,670.84 L495.38,670.75 L497.40,670.66 L499.42,670.57 L501.44,670.47 L503.46,670.38 L505.48,670.29 L507.50,670.20 L509.52,670.10 L511.54,670.01 L513.56,669.91 L515.58,669.81 L517.60,669.72 L519.62,669.62 L521.64,669.52 L523.66,669.42 L525.67,669.32 L527.69,669.22 L529.71,669.12 L531.73,669.01 L533.75,668.91 L535.77,668.81 L537.79,668.70 L539.81,668.60 L541.83,668.49 L543.85,668.38 L545.87,668.28 L547.89,668.17 L549.91,668.06 L551.93,667.95 L553.95,667.84 L555.97,667.73 L557.99,667.61 L560.01,667.50 L562.03,667.39 L564.05,667.27 L566.07,667.16 L568.09,667.04 L570.11,666.93 L572.13,666.81 L574.15,666.69 L576.17,666.57 L578.19,666.45 L580.21,666.33 L582.23,666.21 L584.25,666.09 L586.27,665.97 L588.28,665.85 L590.30,665.72 L592.32,665.60 L594.34,665.48 L596.36,665.35 L598.38,665.22 L600.40,665.10 L602.42,664.97 L604.44,664.84 L606.46,664.71 L608.48,664.58 L610.50,664.45 L612.52,664.32 L614.54,664.19 L616.56,664.06 L618.58,663.92 L620.60,663.79 L622.62,663.65 L624.64,663.52 L626.66,663.38 L628.68,663.25 L630.70,663.11 L632.72,662.97 L634.74,662.83 L636.76,662.69 L638.78,662.55 L640.80,662.41 L642.82,662.27 L644.84,662.13 L646.86,661.98 L648.88,661.84 L650.89,661.70 L652.91,661.55 L654.93,661.40 L656.95,661.26 L658.97,661.11 L660.99,660.96 L663.01,660.81 L665.03,660.67 L667.05,660.52 L669.07,660.37 L671.09,660.21 L673.11,660.06 L675.13,659.91 L677.15,659.76 L679.17,659.60 L681.19,659.45 L683.21,659.29 L685.23,659.14 L687.25,658.98 L689.27,658.82 L691.29,658.66 L693.31,658.51 L695.33,658.35 L697.35,658.19 L699.37,658.03 L701.39,657.86 L703.41,657.70 L705.43,657.54 L707.45,657.38 L709.47,657.21 L711.49,657.05 L713.50,656.88 L715.52,656.72 L717.54,656.55 L719.56,656.38 L721.58,656.21" stroke="#0f0" stroke-width="3.0" stroke-linecap="round" stroke-linejoin="round" fill="none" stroke-dasharray="10.8 10.35" stroke-dashoffset="-1.5"/>
<path d="M117.70,675.04 L118.84,675.19 L119.99,675.35 L121.13,675.49 L122.27,675.63 L123.41,675.76 L124.56,675.89 L125.70,675.90 L126.84,675.90 L127.98,675.90 L129.13,675.90 L130.27,675.90 L131.41,675.90 L132.55,675.90 L133.70,675.90 L134.84,675.90 L135.98,675.90 L137.13,675.90 L138.27,675.90 L139.41,675.90 L140.55,675.90 L141.70,675.90 L142.84,675.90 L143.98,675.90 L145.12,675.90 L146.27,675.90 L147.41,675.90 L148.55,675.81 L149.70,675.68 L150.84,675.54 L151.98,675.40 L153.12,675.25 L154.27,675.09 L155.41,674.93 L156.55,674.76 L157.69,674.59 L158.84,674.41 L159.98,674.23 L161.12,674.04 L162.26,673.84 L163.41,673.63 L164.55,673.42 L165.69,673.20 L166.84,672.97 L167.98,672.74 L169.12,672.50 L170.26,672.24 L171.41,671.99 L172.55,671.72 L173.69,671.44 L174.83,671.16 L175.98,670.86 L177.12,670.56 L178.26,670.25 L179.41,669.93 L180.55,669.60 L181.69,669.27 L182.83,668.92 L183.98,668.57 L185.12,668.21 L186.26,667.84 L187.40,667.46 L188.55,667.07 L189.69,666.68 L190.83,666.27 L191.97,665.86 L193.12,665.44 L194.26,665.02 L195.40,664.58 L196.55,664.14 L197.69,663.70 L198.83,663.24 L199.97,662.78 L201.12,662.31 L202.26,661.83 L203.40,661.35 L204.54,660.86 L205.69,660.37 L206.83,659.87 L207.97,659.36 L209.12,658.85 L210.26,658.33 L211.40,657.80 L212.54,657.27 L213.69,656.73 L214.83,656.19 L215.97,655.64 L217.11,655.09 L218.26,654.53 L219.40,653.97 L220.54,653.40 L221.68,652.83 L222.83,652.25 L223.97,651.67 L225.11,651.09 L226.26,650.50 L227.40,649.90 L228.54,649.30 L229.68,648.70 L230.83,648.09 L231.97,647.48 L233.11,646.87 L234.25,646.25 L235.40,645.63 L236.54,645.01 L237.68,644.38 L238.83,643.75 L239.97,643.12 L241.11,642.48 L242.25,641.84 L243.40,641.20 L244.54,640.55 L245.68,639.91 L246.82,639.26 L247.97,638.60 L249.11,637.95 L250.25,637.29 L251.39,636.63 L252.54,635.96 L253.68,635.30 L254.82,634.63 L255.97,633.96 L257.11,633.28 L258.25,632.60 L259.39,631.93 L260.54,631.25 L261.68,630.56 L262.82,629.88 L263.96,629.19 L265.11,628.50 L266.25,627.81 L267.39,627.12 L268.54,626.42 L269.68,625.72 L270.82,625.03 L271.96,624.32 L273.11,623.62 L274.25,622.92 L275.39,622.21 L276.53,621.50 L277.68,620.80 L278.82,620.09 L279.96,619.37 L281.10,618.66 L282.25,617.94 L283.39,617.23 L284.53,616.51 L285.68,615.79 L286.82,615.07 L287.96,614.35 L289.10,613.63 L290.25,612.91 L291.39,612.18 L292.53,611.46 L293.67,610.73 L294.82,610.01 L295.96,609.28 L297.10,608.55 L298.25,607.82 L299.39,607.09 L300.53,606.36 L301.67,605.63 L302.82,604.90 L303.96,604.17 L305.10,603.43 L306.24,602.70 L307.39,601.97 L308.53,601.23 L309.67,600.50 L310.81,599.77 L311.96,599.03 L313.10,598.30 L314.24,597.56 L315.39,596.83 L316.53,596.09 L317.67,595.36 L318.81,594.62 L319.96,593.89 L321.10,593.16 L322.24,592.42 L323.38,591.69 L324.53,590.96 L325.67,590.22 L326.81,589.49 L327.95,588.76 L329.10,588.03 L330.24,587.30 L331.38,586.57 L332.53,585.84 L333.67,585.11 L334.81,584.38 L335.95,583.65 L337.10,582.93 L338.24,582.20 L339.38,581.48 L340.52,580.75 L341.67,580.03 L342.81,579.31 L343.95,578.59 L345.10,577.87 L346.24,577.15 L347.38,576.44 L348.52,575.72 L349.67,575.00 L350.81,574.29 L351.95,573.58 L353.09,572.87 L354.24,572.15 L355.38,571.44 L356.52,570.74 L357.66,570.03 L358.81,569.32 L359.95,568.62 L361.09,567.91 L362.24,567.21 L363.38,566.51 L364.52,565.81 L365.66,565.11 L366.81,564.41 L367.95,563.71 L369.09,563.01 L370.23,562.32 L371.38,561.63 L372.52,560.93 L373.66,560.24 L374.81,559.55 L375.95,558.86 L377.09,558.17 L378.23,557.49 L379.38,556.80 L380.52,556.11 L381.66,555.43 L382.80,554.75 L383.95,554.07 L385.09,553.39 L386.23,552.71 L387.37,552.03 L388.52,551.35 L389.66,550.68 L390.80,550.00 L391.95,549.33 L393.09,548.66 L394.23,547.99 L395.37,547.32 L396.52,546.65 L397.66,545.99 L398.80,545.32 L399.94,544.66 L401.09,543.99 L402.23,543.33 L403.37,542.67 L404.52,542.01 L405.66,541.35 L406.80,540.70 L407.94,540.04 L409.09,539.39 L410.23,538.73 L411.37,538.08 L412.51,537.43 L413.66,536.78 L414.80,536.13 L415.94,535.49 L417.08,534.84 L418.23,534.20 L419.37,533.55 L420.51,532.91 L421.66,532.27 L422.80,531.63 L423.94,531.00 L425.08,530.36 L426.23,529.73 L427.37,529.09 L428.51,528.46 L429.65,527.83 L430.80,527.20 L431.94,526.57 L433.08,525.94 L434.23,525.32 L435.37,524.69 L436.51,524.07 L437.65,523.45 L438.80,522.83 L439.94,522.21 L441.08,521.59 L442.22,520.98 L443.37,520.36 L444.51,519.75 L445.65,519.14 L446.79,518.53 L447.94,517.92 L449.08,517.31 L450.22,516.70 L451.37,516.10 L452.51,515.50 L453.65,514.89 L454.79,514.29 L455.94,513.69 L457.08,513.10 L458.22,512.50 L459.36,511.90 L460.51,511.31 L461.65,510.72 L462.79,510.13 L463.94,509.54 L465.08,508.95 L466.22,508.36 L467.36,507.78 L468.51,507.20 L469.65,506.61 L470.79,506.03 L471.93,505.45 L473.08,504.88 L474.22,504.30 L475.36,503.73 L476.50,503.15 L477.65,502.58 L478.79,502.01 L479.93,501.44 L481.08,500.88 L482.22,500.31 L483.36,499.75 L484.50,499.18 L485.65,498.62 L486.79,498.06 L487.93,497.51 L489.07,496.95 L490.22,496.39 L491.36,495.84 L492.50,495.29 L493.65,494.74 L494.79,494.19 L495.93,493.64 L497.07,493.10 L498.22,492.55 L499.36,492.01 L500.50,491.47 L501.64,490.93 L502.79,490.39 L503.93,489.85 L505.07,489.32 L506.21,488.79 L507.36,488.26 L508.50,487.73 L509.64,487.20 L510.79,486.67 L511.93,486.15 L513.07,485.62 L514.21,485.10 L515.36,484.58 L516.50,484.06 L517.64,483.54 L518.78,483.03 L519.93,482.51 L521.07,482.00 L522.21,481.49 L523.35,480.98 L524.50,480.48 L525.64,479.97 L526.78,479.47 L527.93,478.96 L529.07,478.46 L530.21,477.96 L531.35,477.47 L532.50,476.97 L533.64,476.48 L534.78,475.98 L535.92,475.49 L537.07,475.00 L538.21,474.52 L539.35,474.03 L540.50,473.55 L541.64,473.07 L542.78,472.58 L543.92,472.11 L545.07,471.63 L546.21,471.15 L547.35,470.68 L548.49,470.21 L549.64,469.74 L550.78,469.27 L551.92,468.80 L553.06,468.34 L554.21,467.87 L555.35,467.41 L556.49,466.95 L557.64,466.50 L558.78,466.04 L559.92,465.58 L561.06,465.13 L562.21,464.68 L563.35,464.23 L564.49,463.78 L565.63,463.34 L566.78,462.89 L567.92,462.45 L569.06,462.01 L570.21,461.57 L571.35,461.14 L572.49,460.70 L573.63,460.27" stroke="#00f" stroke-width="3.0" stroke-linecap="round" stroke-linejoin="round" fill="none" stroke-dasharray="16.15 5 3.2 4.9"/>
<path d="M269.10,315.00 L346.20,315.00" stroke="#f00" stroke-width="3.0" stroke-linecap="round" stroke-linejoin="round" fill="none"/>
<path d="M466.70,315.00 L543.80,315.00" stroke="#0f0" stroke-width="3.0" stroke-linecap="round" stroke-linejoin="round" fill="none" stroke-dasharray="10.8 10.35"/>
<path d="M664.10,315.00 L741.20,315.00" stroke="#00f" stroke-width="3.0" stroke-linecap="round" stroke-linejoin="round" fill="none" stroke-dasharray="16.15 5 3.2 4.9"/>
<g stroke="#000" stroke-width="3.0" stroke-linecap="round" stroke-linejoin="round" fill="none">
<rect x="117.75" y="15.0" width="683.95" height="660.90"/>
<path d="M117.75,345.5 H801.7"/>
</g>
<g class="t" font-size="28" fill="#000" stroke="#000" stroke-width="0.3">
<text transform="translate(93.00,353.40) scale(1.012,1.035)" text-anchor="end">0</text>
<text transform="translate(93.00,287.30) scale(1.012,1.035)" text-anchor="end">0.05</text>
<text transform="translate(93.00,221.20) scale(1.012,1.035)" text-anchor="end">0.1</text>
<text transform="translate(93.00,155.10) scale(1.012,1.035)" text-anchor="end">0.15</text>
<text transform="translate(93.00,89.00) scale(1.012,1.035)" text-anchor="end">0.2</text>
<text transform="translate(93.00,22.90) scale(1.012,1.035)" text-anchor="end">0.25</text>
<text transform="translate(93.00,683.80) scale(1.012,1.035)" text-anchor="end">0</text>
<text transform="translate(93.00,636.60) scale(1.012,1.035)" text-anchor="end">0.02</text>
<text transform="translate(93.00,589.40) scale(1.012,1.035)" text-anchor="end">0.04</text>
<text transform="translate(93.00,542.20) scale(1.012,1.035)" text-anchor="end">0.06</text>
<text transform="translate(93.00,495.00) scale(1.012,1.035)" text-anchor="end">0.08</text>
<text transform="translate(93.00,447.80) scale(1.012,1.035)" text-anchor="end">0.1</text>
<text transform="translate(93.00,400.60) scale(1.012,1.035)" text-anchor="end">0.12</text>
<text transform="translate(117.75,708.60) scale(1.012,1.035)" text-anchor="middle">0</text>
<text transform="translate(231.74,708.60) scale(1.012,1.035)" text-anchor="middle">50</text>
<text transform="translate(345.73,708.60) scale(1.012,1.035)" text-anchor="middle">100</text>
<text transform="translate(459.73,708.60) scale(1.012,1.035)" text-anchor="middle">150</text>
<text transform="translate(573.72,708.60) scale(1.012,1.035)" text-anchor="middle">200</text>
<text transform="translate(687.71,708.60) scale(1.012,1.035)" text-anchor="middle">250</text>
<text transform="translate(801.70,708.60) scale(1.012,1.035)" text-anchor="middle">300</text>
<text transform="translate(459.60,746.20) scale(1.012,1.035)" text-anchor="middle">Time / min</text>
<text transform="translate(167.60,323.20) scale(1.012,1.035)" text-anchor="start">14 ML</text>
<text transform="translate(364.30,323.20) scale(1.012,1.035)" text-anchor="start">30 ML</text>
<text transform="translate(562.40,323.20) scale(1.012,1.035)" text-anchor="start">59 ML</text>
<text transform="translate(24.00,181.90) rotate(-90) scale(1.012,1.035)" text-anchor="middle">CO:H<tspan font-size="21.8" dy="4.2">2</tspan><tspan dy="-4.2">O ratio</tspan></text>
<text transform="translate(24.00,511.90) rotate(-90) scale(1.012,1.035)" text-anchor="middle">CO:D<tspan font-size="21.8" dy="4.2">2</tspan><tspan dy="-4.2">O ratio</tspan></text>
</g>
</svg>
</body></html>
